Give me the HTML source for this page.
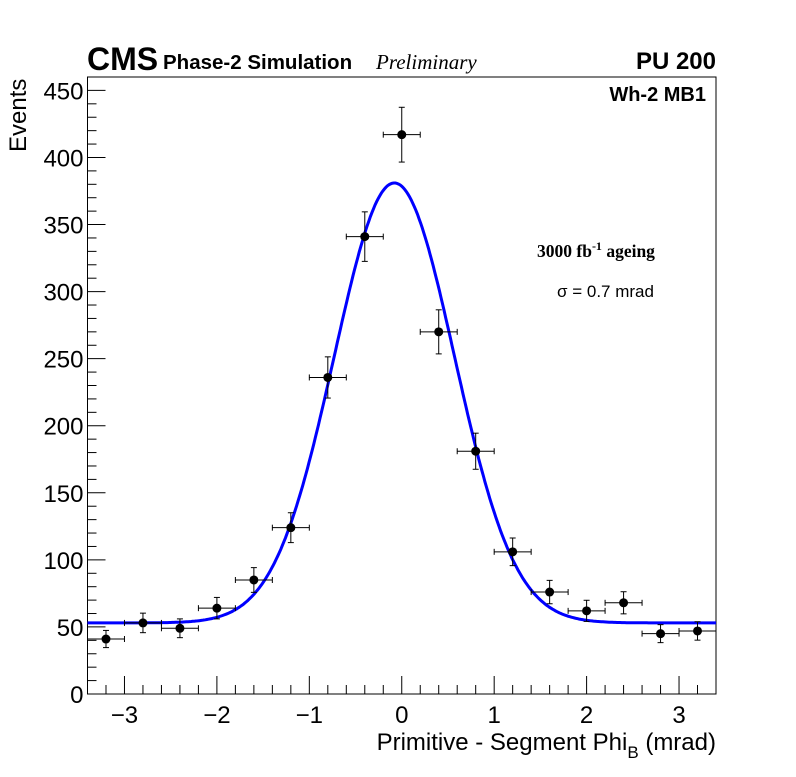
<!DOCTYPE html>
<html><head><meta charset="utf-8"><style>
body{margin:0;background:#fff}
svg text{font-family:"Liberation Sans",sans-serif}
</style></head><body>
<svg id="c" width="796" height="772" viewBox="0 0 796 772" xmlns="http://www.w3.org/2000/svg">
<rect width="796" height="772" fill="#fff"/>
<g id="axes"></g>
<g id="fit"></g>
<g id="pts"></g>
<text x="87" y="70" font-size="32" font-weight="bold">CMS</text>
<text x="163" y="69" font-size="20.5" font-weight="bold">Phase-2 Simulation</text>
<text x="376" y="69" font-size="21" font-style="italic" style="font-family:'Liberation Serif',serif">Preliminary</text>
<text x="716" y="69" font-size="24" font-weight="bold" text-anchor="end">PU 200</text>
<text x="706" y="101" font-size="20" font-weight="bold" text-anchor="end">Wh-2 MB1</text>
<text x="537" y="257" font-size="17.5" font-weight="bold" style="font-family:'Liberation Serif',serif">3000 fb<tspan dy="-7" font-size="12">-1</tspan><tspan dy="7"> ageing</tspan></text>
<text x="557" y="297" font-size="17">σ = 0.7 mrad</text>
<text x="716" y="750" font-size="24" text-anchor="end">Primitive - Segment Phi<tspan dy="8" font-size="17">B</tspan><tspan dy="-8"> (mrad)</tspan></text>
<text transform="translate(26,152) rotate(-90)" font-size="24">Events</text>
</svg>
<script>
const xCenters=[-3.2,-2.8,-2.4,-2.0,-1.6,-1.2,-0.8,-0.4,0,0.4,0.8,1.2,1.6,2.0,2.4,2.8,3.2];
const counts=[41,53,49,64,85,124,236,341,417,270,181,106,76,62,68,45,47];
const fitParams=[53,328,-0.08,0.65]; // const, amplitude, mean, sigma
const xTicks=[-3,-2,-1,0,1,2,3];
const yTicks=[0,50,100,150,200,250,300,350,400,450];
const binHalf=0.2;
const NS="http://www.w3.org/2000/svg";
const L=87.5,R=716,T=77,B=694,xmin=-3.4,xmax=3.4,ymin=0,ymax=460;
const X=v=>L+(v-xmin)/(xmax-xmin)*(R-L);
const Y=v=>B-(v-ymin)/(ymax-ymin)*(B-T);
function mk(p,tag,at){const e=document.createElementNS(NS,tag);for(const k in at)e.setAttribute(k,at[k]);p.appendChild(e);return e;}
const ax=document.getElementById('axes');
const frame=mk(ax,'rect',{x:L,y:T,width:R-L,height:B-T,fill:'none',stroke:'#000','stroke-width':1});


for(let v=-3.4;v<=3.4001;v+=0.2){const r=Math.round(v*10)/10;const maj=Math.abs(r-Math.round(r))<1e-6;
 const t=mk(ax,'line',{x1:X(r),x2:X(r),y1:B,y2:B-(maj?18:9),stroke:'#000'});
 
 }
xTicks.forEach(v=>{const t=mk(ax,'text',{x:X(v),y:B+29,'font-size':24,'text-anchor':'middle'});t.textContent=v<0?'\u2212'+Math.abs(v):String(v);
 
 });
for(let v=0;v<=460;v+=10){const maj=v%50===0;
 const t=mk(ax,'line',{x1:L,x2:L+(maj?18:9),y1:Y(v),y2:Y(v),stroke:'#000'});
 
 }
yTicks.forEach(v=>{const t=mk(ax,'text',{x:L-4,y:Y(v)+9,'font-size':24,'text-anchor':'end'});t.textContent=v;
 
 });
const f=v=>fitParams[0]+fitParams[1]*Math.exp(-Math.pow(v-fitParams[2],2)/(2*fitParams[3]*fitParams[3]));
let d='';for(let i=0;i<=400;i++){const v=xmin+(xmax-xmin)*i/400;d+=(i?'L':'M')+X(v).toFixed(1)+','+Y(f(v)).toFixed(1);}
const fl=mk(document.getElementById('fit'),'path',{d:d,fill:'none',stroke:'#0000ff','stroke-width':3});


const pg=document.getElementById('pts');
xCenters.forEach((x,i)=>{const n=counts[i],e=Math.sqrt(n);
 const g=mk(pg,'g',{stroke:'#000','stroke-width':1});
 
 
 mk(g,'line',{x1:X(x-binHalf),x2:X(x+binHalf),y1:Y(n),y2:Y(n)});
 mk(g,'line',{x1:X(x),x2:X(x),y1:Y(n-e),y2:Y(n+e)});
 mk(g,'line',{x1:X(x-binHalf),x2:X(x-binHalf),y1:Y(n)-3,y2:Y(n)+3});
 mk(g,'line',{x1:X(x+binHalf),x2:X(x+binHalf),y1:Y(n)-3,y2:Y(n)+3});
 mk(g,'line',{x1:X(x)-3,x2:X(x)+3,y1:Y(n-e),y2:Y(n-e)});
 mk(g,'line',{x1:X(x)-3,x2:X(x)+3,y1:Y(n+e),y2:Y(n+e)});
 mk(g,'circle',{cx:X(x),cy:Y(n),r:4.5,fill:'#000',stroke:'none'});
});
</script>
</body></html>
